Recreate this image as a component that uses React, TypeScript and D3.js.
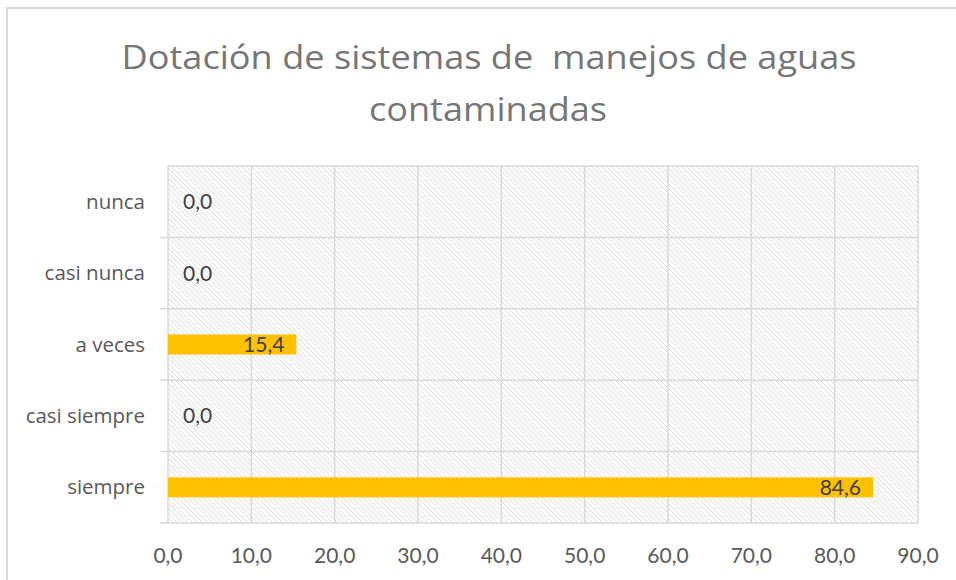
import React from "react";
import * as d3 from "d3";

const categories = ["nunca", "casi nunca", "a veces", "casi siempre", "siempre"];
const values = [0.0, 0.0, 15.4, 0.0, 84.6];
const xTicks = [0, 10, 20, 30, 40, 50, 60, 70, 80, 90];
const titleLines = ["Dotación de sistemas de\u00a0 manejos de aguas", "contaminadas"];

const W = 956;
const H = 580;
const plot = { left: 168, right: 918, top: 166, bottom: 523 };
const FONT = "Lato, 'Open Sans', sans-serif";
const FONT2 = "'Open Sans', Lato, sans-serif";
const fmt = (v: number) => d3.format(".1f")(v).replace(".", ",");

export default function App() {
  const x = d3.scaleLinear().domain([0, 90]).range([plot.left, plot.right]);
  const y = d3.scaleBand<string>().domain(categories).range([plot.top, plot.bottom]).padding(0);
  const bw = y.bandwidth();
  const barH = bw * 0.28;
  const boundaries = categories.map((c) => y(c)!).concat([plot.bottom]);

  return (
    <svg width={W} height={H} style={{ position: "absolute", left: 0, top: 0 }} fontFamily={FONT}>
      <defs>
        <pattern id="hatch" patternUnits="userSpaceOnUse" width={5} height={5}>
          <rect width={5} height={5} fill="#ffffff" />
          <path d="M0,0 L5,5 M-1,4 L1,6 M4,-1 L6,1" stroke="#d9d9d9" strokeWidth={0.9} />
        </pattern>
      </defs>
      <rect x={0} y={0} width={W} height={H} fill="#ffffff" />
      <rect x={7} y={8} width={W + 20} height={H + 20} fill="none" stroke="#d9d9d9" strokeWidth={2} />

      <g fill="#767676" fontSize={33} textAnchor="middle" fontFamily={FONT2}>
        <text x={489} y={69} textLength={735} lengthAdjust="spacingAndGlyphs">{titleLines[0]}</text>
        <text x={488} y={121} textLength={238} lengthAdjust="spacingAndGlyphs">{titleLines[1]}</text>
      </g>

      <rect x={plot.left} y={plot.top} width={plot.right - plot.left} height={plot.bottom - plot.top} fill="url(#hatch)" />

      <g stroke="#d9d9d9" strokeWidth={1.5}>
        {xTicks.slice(1).map((t) => (
          <line key={"v" + t} x1={x(t)} x2={x(t)} y1={plot.top} y2={plot.bottom} />
        ))}
        {boundaries.map((b, i) => (
          <line key={"h" + i} x1={i === 0 ? plot.left : plot.left - 8} x2={plot.right} y1={b} y2={b} />
        ))}
        <line x1={plot.left} x2={plot.left} y1={plot.top} y2={plot.bottom} />
      </g>

      {categories.map((c, i) => {
        const v = values[i];
        const cy = y(c)! + bw / 2;
        return (
          <g key={c}>
            {v > 0 && (
              <rect x={x(0)} y={cy - barH / 2} width={x(v) - x(0)} height={barH} fill="#ffc000" />
            )}
            <text
              x={v > 0 ? x(v) - 12 : x(0) + 15}
              y={cy + 7.5}
              textAnchor={v > 0 ? "end" : "start"}
              fontSize={21}
              fill="#404040"
            >
              {fmt(v)}
            </text>
            <text x={145} y={cy + 7} textAnchor="end" fontSize={20.5} fill="#595959" fontFamily={FONT2}>
              {c}
            </text>
          </g>
        );
      })}

      <g fontSize={21} fill="#595959" textAnchor="middle">
        {xTicks.map((t) => (
          <text key={t} x={x(t)} y={563}>
            {fmt(t)}
          </text>
        ))}
      </g>
    </svg>
  );
}
